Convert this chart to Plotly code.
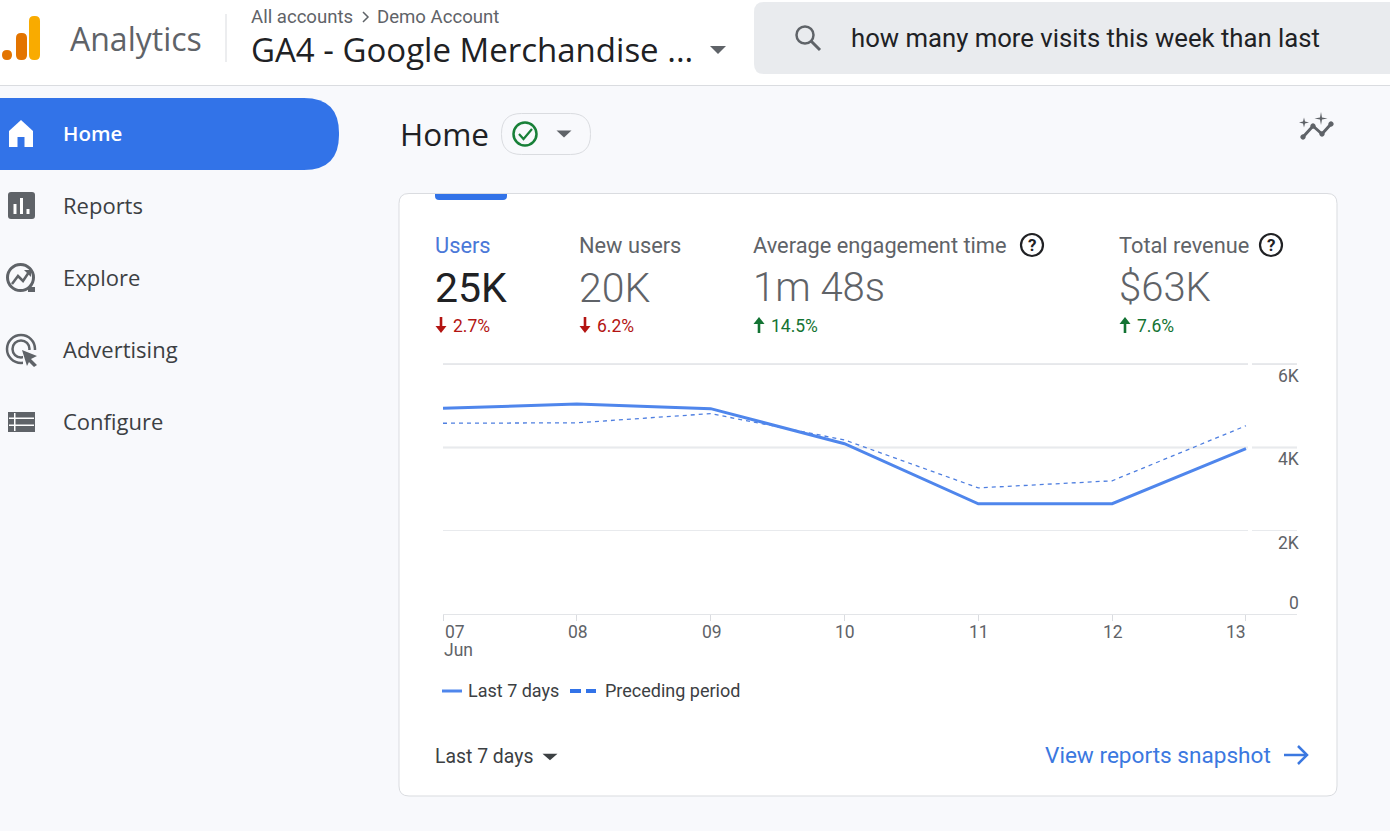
import plotly.graph_objects as go

W, H = 1390, 831

days = [7, 8, 9, 10, 11, 12, 13]
day_labels = ["07", "08", "09", "10", "11", "12", "13"]
month_label = "Jun"
last_7_days = [4940, 5040, 4930, 4090, 2650, 2650, 3970]
preceding_period = [4580, 4590, 4810, 4180, 3030, 3200, 4520]
y_ticks = [0, 2000, 4000, 6000]
y_tick_labels = ["0", "2K", "4K", "6K"]

nav_items = ["Home", "Reports", "Explore", "Advertising", "Configure"]
metric_names = ["Users", "New users", "Average engagement time", "Total revenue"]
metric_values = ["25K", "20K", "1m 48s", "$63K"]
metric_deltas = ["2.7%", "6.2%", "14.5%", "7.6%"]
metric_down = [True, True, False, False]

BLUE = "#3273e8"
LINE = "#4f86ec"
GREY = "#5f6368"
DARK = "#3c4043"
PAGE = "#f8f9fc"
SANS = "Roboto"
HEAD = "Open Sans"


def X(x):
    return x / W


def Y(y):
    return 1 - y / H


def P(points, close=True):
    s = "M " + " L ".join(f"{X(a):.5f},{Y(b):.5f}" for a, b in points)
    return s + (" Z" if close else "")


def round_rect(x0, y0, x1, y1, r):
    # rounded corners with quadratic curves, in pixels
    return (
        f"M {X(x0 + r):.5f},{Y(y0):.5f} L {X(x1 - r):.5f},{Y(y0):.5f} "
        f"Q {X(x1):.5f},{Y(y0):.5f} {X(x1):.5f},{Y(y0 + r):.5f} "
        f"L {X(x1):.5f},{Y(y1 - r):.5f} Q {X(x1):.5f},{Y(y1):.5f} {X(x1 - r):.5f},{Y(y1):.5f} "
        f"L {X(x0 + r):.5f},{Y(y1):.5f} Q {X(x0):.5f},{Y(y1):.5f} {X(x0):.5f},{Y(y1 - r):.5f} "
        f"L {X(x0):.5f},{Y(y0 + r):.5f} Q {X(x0):.5f},{Y(y0):.5f} {X(x0 + r):.5f},{Y(y0):.5f} Z"
    )


shapes = []
annotations = []


def path(d, fill="rgba(0,0,0,0)", color=None, width=0, layer="below"):
    shapes.append(dict(type="path", xref="paper", yref="paper", path=d, fillcolor=fill,
                       line=dict(color=color or "rgba(0,0,0,0)", width=width), layer=layer))


def rect(x0, y0, x1, y1, fill, layer="below"):
    shapes.append(dict(type="rect", xref="paper", yref="paper", x0=X(x0), x1=X(x1), y0=Y(y1), y1=Y(y0),
                       fillcolor=fill, line=dict(width=0), layer=layer))


def circle(cx, cy, r, color, width=2, fill="rgba(0,0,0,0)"):
    shapes.append(dict(type="circle", xref="paper", yref="paper", x0=X(cx - r), x1=X(cx + r),
                       y0=Y(cy + r), y1=Y(cy - r), fillcolor=fill,
                       line=dict(color=color, width=width), layer="below"))


def seg(points, color, width):
    path(P(points, close=False), color=color, width=width)


def label(x, y, text, size, color=DARK, family=SANS, anchor="left", weight=None):
    font = dict(size=size, color=color, family=family)
    if weight:
        font["weight"] = weight
    annotations.append(dict(xref="paper", yref="paper", x=X(x), y=Y(y), text=text, showarrow=False,
                            xanchor=anchor, yanchor="middle", align="left", font=font, borderpad=0))


def caret(cx, cy, w, h, color=GREY):
    path(P([(cx - w, cy - h / 2), (cx + w, cy - h / 2), (cx, cy + h / 2)]), fill=color)


def delta_arrow(cx, cy, down, color):
    tip = cy + 8 if down else cy - 8
    tail = cy - 8 if down else cy + 8
    neck = tip - 7 if down else tip + 7
    seg([(cx, tail), (cx, neck)], color, 2.6)
    path(P([(cx - 5.5, neck), (cx + 5.5, neck), (cx, tip)]), fill=color)


# page and header
rect(0, 0, W, H, PAGE)
rect(0, 0, W, 85, "#ffffff")
rect(0, 85, W, 86, "#dadce0")
path(round_rect(2, 50, 12, 60, 5), fill="#e37400")
path(round_rect(16, 33, 27, 60, 5), fill="#e37400")
path(round_rect(29, 16, 40, 60, 5), fill="#f9ab00")
label(69, 38.5, "Analytics", 32, GREY, HEAD)
rect(225.5, 14, 226.5, 62, "#dadce0")
label(250, 17, "All accounts", 18.6, GREY)
seg([(363, 12), (368, 17), (363, 22)], GREY, 1.5)
label(376, 17, "Demo Account", 18.6, GREY)
label(250, 49.5, "GA4 - Google Merchandise ...", 33, "#202124", HEAD)
caret(718, 50, 8, 8)
path(round_rect(754, 2, 1420, 74, 10), fill="#e9ebee")
circle(805, 35, 8.5, GREY, 2.5)
seg([(811, 41), (820, 50)], GREY, 3)
label(850, 38, "how many more visits this week than last", 25.7, "#202124")

# sidebar
path(round_rect(-40, 98, 339, 170, 35), fill=BLUE)
path(P([(21, 120), (33, 131), (33, 147), (9, 147), (9, 131)]), fill="#ffffff")
rect(17.5, 137, 24.5, 147, BLUE)
path(round_rect(8, 192, 35, 219, 3), fill=GREY)
rect(13.5, 204, 16.5, 214, "#ffffff")
rect(20, 198, 23, 214, "#ffffff")
rect(26.5, 209, 29.5, 214, "#ffffff")
circle(20.5, 277.5, 13, GREY, 3)
seg([(12, 284), (18, 276), (23, 281), (29, 272)], GREY, 2.5)
path(P([(24, 270), (31, 270), (31, 277)]), fill=GREY)
path(P([(28, 287), (35, 287), (35, 292), (28, 292)]), fill=GREY)
circle(21, 349, 14, GREY, 2.5)
circle(21, 349, 8.5, GREY, 2.5)
rect(23, 350, 39, 368, PAGE)
path(P([(22, 350), (37, 356), (31, 359), (37, 365), (34, 367), (29, 362), (27, 366)]), fill=GREY)
rect(8, 412, 35, 432, GREY)
for yy in (417.5, 424.5):
    rect(9, yy, 34, yy + 1.5, "#ffffff")
rect(14, 413, 15.5, 431, "#ffffff")
for i, name in enumerate(nav_items):
    active = i == 0
    label(62, 133 + 72 * i, name, 20.5 if active else 22, "#ffffff" if active else DARK,
          HEAD, weight=600 if active else 500)

# page title
label(399, 133, "Home", 31.5, "#202124", HEAD)
path(round_rect(501.5, 113.5, 590.5, 154.5, 20), fill=PAGE, color="#dadce0", width=1)
circle(525, 134, 11.5, "#188038", 2.5)
seg([(519, 134), (523.5, 139), (532, 129)], "#188038", 2.2)
caret(564, 134, 7.5, 7)
seg([(1303, 137), (1313, 126), (1322, 134), (1331, 124)], GREY, 3)
for cx, cy in [(1303, 137), (1313, 126), (1322, 134), (1331, 124)]:
    circle(cx, cy, 2.2, GREY, 1, fill=GREY)
for cx, cy, r in [(1304, 122.5, 5), (1321, 118.5, 6.5)]:
    path(P([(cx - r, cy), (cx - 1, cy - 1), (cx, cy - r), (cx + 1, cy - 1), (cx + r, cy),
            (cx + 1, cy + 1), (cx, cy + r), (cx - 1, cy + 1)]), fill=GREY)

# card
path(round_rect(399, 193.5, 1337, 796, 10), fill="#ffffff", color="#dadce0", width=1)
path(round_rect(435, 188, 507, 200, 4), fill=BLUE)
rect(430, 180, 512, 193, PAGE)
rect(430, 193, 512, 194, "#dadce0")

metric_x = [435, 579, 753, 1119]
for i, name in enumerate(metric_names):
    x = metric_x[i]
    label(x - 1, 245, name, 21.8, "#4a78d8" if i == 0 else GREY)
    label(x - 1, 287.5, metric_values[i], 41 if i < 2 else 40, "#202124" if i == 0 else GREY,
          weight=400 if i == 0 else 300)
    col = "#b31412" if metric_down[i] else "#137333"
    delta_arrow(x + 6, 325, metric_down[i], col)
    label(x + 17, 325.5, metric_deltas[i], 17.5, col)
for cx in (1032, 1271):
    circle(cx, 245, 11, "#202124", 2.2)
    label(cx, 245, "?", 17, "#202124", anchor="center", weight=700)

# legend
seg([(442, 691), (462, 691)], LINE, 3)
label(467, 690.5, "Last 7 days", 18, DARK)
rect(570, 689, 581, 693, BLUE)
rect(586, 689, 596, 693, BLUE)
label(604, 690.5, "Preceding period", 18, DARK)

# footer of the card
label(434, 756.5, "Last 7 days", 19.4, DARK)
caret(550, 757, 7.5, 6.5, DARK)
label(1044, 755, "View reports snapshot", 22.6, "#3b78e0")
seg([(1284, 755), (1307, 755)], "#3b78e0", 2.5)
seg([(1298, 746), (1307, 755), (1298, 764)], "#3b78e0", 2.5)

fig = go.Figure()
fig.add_trace(go.Scatter(x=days, y=preceding_period, mode="lines", name="Preceding period",
                         line=dict(color="#4f7fe0", width=1.3, dash="4px,4px")))
fig.add_trace(go.Scatter(x=days, y=last_7_days, mode="lines", name="Last 7 days",
                         line=dict(color=LINE, width=3)))

# the two upper grid lines are heavier and all of them break before the tick labels
for v in (4000, 6000):
    shapes.append(dict(type="line", xref="paper", yref="y", x0=X(443), x1=X(1297), y0=v, y1=v,
                       line=dict(color="#e6e7ea", width=2), layer="below"))
rect(1248, 360, 1252, 534, "#ffffff", layer="above")

# tick labels sit under their grid lines, 0 sits above, the end labels lean inward
for v, t in zip(y_ticks, y_tick_labels):
    annotations.append(dict(xref="paper", yref="y", x=X(1301), y=v, text=t, showarrow=False,
                            xanchor="right", yanchor="middle", yshift=11 if v == 0 else -12,
                            font=dict(size=17.5, color=GREY, family=SANS)))
for i, (d, t) in enumerate(zip(days, day_labels)):
    anchor = "left" if i == 0 else "right" if i == len(days) - 1 else "center"
    annotations.append(dict(xref="x", yref="paper", x=d, y=Y(632), text=t, showarrow=False,
                            xanchor=anchor, yanchor="middle", xshift=1, borderpad=0,
                            font=dict(size=17.5, color=GREY, family=SANS)))
annotations.append(dict(xref="x", yref="paper", x=days[0], y=Y(650), text=month_label, showarrow=False,
                        xanchor="left", yanchor="middle", borderpad=0,
                        font=dict(size=17.5, color=GREY, family=SANS)))

fig.update_layout(
    width=W, height=H,
    margin=dict(l=0, r=0, t=0, b=0),
    paper_bgcolor=PAGE, plot_bgcolor="rgba(0,0,0,0)",
    showlegend=False,
    shapes=shapes, annotations=annotations,
    xaxis=dict(domain=[X(443), X(1297)], range=[7, 7 + (1297 - 443) / 133.83],
               tickvals=days, ticktext=[""] * len(days), ticks="outside", ticklen=6,
               tickcolor="#dadce0", showgrid=False, zeroline=False,
               showline=True, linecolor="#e3e5e8", fixedrange=True),
    # range runs a little past 6K so the heavy top grid line is not clipped
    yaxis=dict(domain=[Y(614.3), Y(614.3 - 250.3 * 6100 / 6000)], range=[0, 6100], tickvals=y_ticks,
               showticklabels=False, gridcolor="#e8eaed", gridwidth=1, zeroline=False,
               fixedrange=True),
    hovermode=False,
)

fig.write_html("out.html", config=dict(displayModeBar=False),
               post_script="document.body.style.margin='0';window.dispatchEvent(new Event('resize'));")
